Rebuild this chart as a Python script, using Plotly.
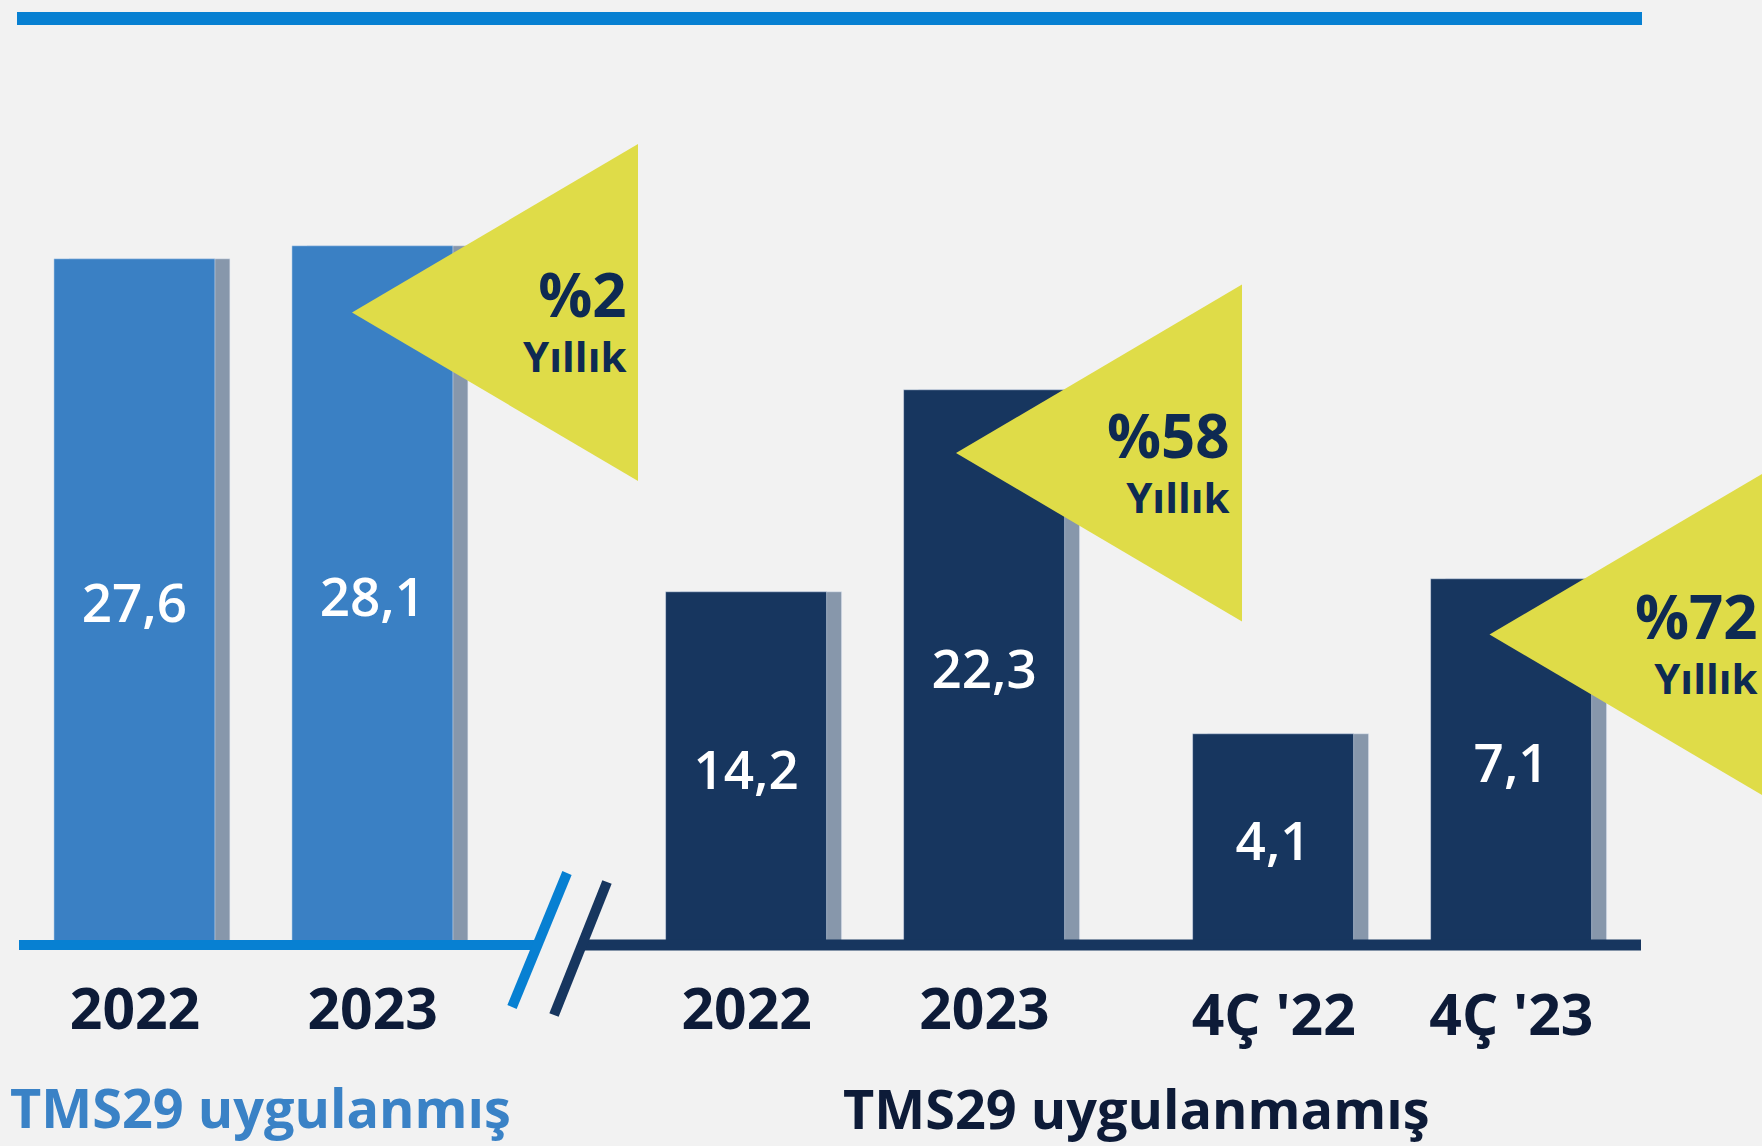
import plotly.graph_objects as go

# data
years_applied = ["2022", "2023"]
net_profit_applied = [27.6, 28.1]          # TMS29 uygulanmış
years_not_applied = ["2022", "2023"]
net_profit_not_applied = [14.2, 22.3]      # TMS29 uygulanmamış
quarters = ["4Ç '22", "4Ç '23"]
net_profit_quarter = [4.1, 7.1]
growth_labels = ["%2", "%58", "%72"]
growth_sub = "Yıllık"
group_titles = ["TMS29 uygulanmış", "TMS29 uygulanmamış"]

W, H = 1762, 1146
LIGHT = "#3a80c4"
NAVY = "#17365f"
SHADOW = "#8797ab"
YELLOW = "#dfdc48"
LINE_BLUE = "#0780d2"
TEXT_NAVY = "#0e2a52"
FONT = "Open Sans"


def px(x, y):
    return x / W, 1 - y / H


def fmt(v):
    return f"{v:.1f}".replace(".", ",")


slot = 237.7
bar_w = 161 / slot
shift = 15 / slot
base_y = 945            # pixel row of value 0


def dom(center_first):
    left = center_first - slot / 2
    return [left / W, (left + 2 * slot) / W]


fig = go.Figure()


def add_pair(cats, vals, color, xa, ya):
    fig.add_trace(go.Bar(x=cats, y=vals, xaxis=xa, yaxis=ya, marker_color=SHADOW,
                         width=bar_w, offset=-bar_w / 2 + shift, hoverinfo="skip",
                         showlegend=False))
    fig.add_trace(go.Bar(x=cats, y=vals, xaxis=xa, yaxis=ya, marker_color=color,
                         width=bar_w, offset=-bar_w / 2, showlegend=False,
                         text=[fmt(v) for v in vals], textposition="inside",
                         insidetextanchor="middle", textangle=0,
                         textfont=dict(family=FONT, size=53, color="white", weight=600)))


add_pair(years_applied, net_profit_applied, LIGHT, "x", "y")
add_pair(years_not_applied, net_profit_not_applied, NAVY, "x2", "y")
add_pair(quarters, net_profit_quarter, NAVY, "x3", "y2")

y_dom = [(H - base_y) / H, 1]
xcommon = dict(type="category", range=[-0.5, 1.5], showgrid=False, zeroline=False,
               showline=False, ticks="", ticklen=0,
               tickfont=dict(family=FONT, size=57, color="#0d1b38", weight=700))

fig.update_layout(
    width=W, height=H, autosize=False,
    margin=dict(l=0, r=0, t=0, b=0),
    paper_bgcolor="#f2f2f2", plot_bgcolor="rgba(0,0,0,0)",
    barmode="overlay", bargap=0,
    xaxis=dict(domain=dom(135), anchor="y", ticklabelstandoff=26, **xcommon),
    xaxis2=dict(domain=dom(746.7), anchor="y", ticklabelstandoff=26, **xcommon),
    xaxis3=dict(domain=dom(1273.7), anchor="y2", ticklabelstandoff=32, **xcommon),
    yaxis=dict(domain=y_dom, range=[0, base_y / 24.87], visible=False, anchor="x"),
    yaxis2=dict(domain=y_dom, range=[0, base_y / 51.5], visible=False, anchor="x3"),
)

shapes = []
# top rule
x0, y0 = px(17, 18.5)
x1, _ = px(1642, 18.5)
shapes.append(dict(type="line", xref="paper", yref="paper", x0=x0, y0=y0, x1=x1, y1=y0,
                   line=dict(color=LINE_BLUE, width=13)))
# baselines
x0, y0 = px(19, base_y)
x1, _ = px(537, base_y)
shapes.append(dict(type="line", xref="paper", yref="paper", x0=x0, y0=y0, x1=x1, y1=y0,
                   line=dict(color=LINE_BLUE, width=10)))
x0, _ = px(582, base_y)
x1, _ = px(1641, base_y)
shapes.append(dict(type="line", xref="paper", yref="paper", x0=x0, y0=y0, x1=x1, y1=y0,
                   line=dict(color=NAVY, width=11)))
# axis break slashes
for (a, b, c, d), col in [((567, 873, 512, 1007), LINE_BLUE), ((607, 882, 554, 1015), NAVY)]:
    sx0, sy0 = px(a, b)
    sx1, sy1 = px(c, d)
    shapes.append(dict(type="line", xref="paper", yref="paper", x0=sx0, y0=sy0, x1=sx1, y1=sy1,
                       line=dict(color=col, width=10)))

# growth callouts
apexes = [(352, 312.5), (956, 453), (1489.5, 634.5)]
annotations = []
for (ax, ay), lab in zip(apexes, growth_labels):
    pts = [px(ax, ay), px(ax + 286, ay - 168.5), px(ax + 286, ay + 168.5)]
    path = "M " + " L ".join(f"{p[0]},{p[1]}" for p in pts) + " Z"
    shapes.append(dict(type="path", xref="paper", yref="paper", path=path,
                       fillcolor=YELLOW, line=dict(width=0), layer="above"))
    rx = min(ax + 277, W - 1)
    tx, ty = px(rx, ay + 6)
    text = (f"<span style='font-size:60px'>{lab}</span><br>"
            f"<span style='font-size:42px'>{growth_sub}</span>")
    annotations.append(dict(xref="paper", yref="paper", x=tx, y=ty, text=text, showarrow=False,
                            xanchor="right", yanchor="middle", align="right",
                            font=dict(family=FONT, size=42, color=TEXT_NAVY, weight=700)))

# group titles
tx, ty = px(8, 1107)
annotations.append(dict(xref="paper", yref="paper", x=tx, y=ty, text=group_titles[0],
                        showarrow=False, xanchor="left", yanchor="middle",
                        font=dict(family=FONT, size=54, color="#3a82c6", weight=700)))
tx, ty = px(1136, 1108)
annotations.append(dict(xref="paper", yref="paper", x=tx, y=ty, text=group_titles[1],
                        showarrow=False, xanchor="center", yanchor="middle",
                        font=dict(family=FONT, size=54, color="#0d1b38", weight=700)))

fig.update_layout(shapes=shapes, annotations=annotations)

fig.write_html("out.html", config={"displayModeBar": False},
               post_script="document.body.style.margin='0';")
